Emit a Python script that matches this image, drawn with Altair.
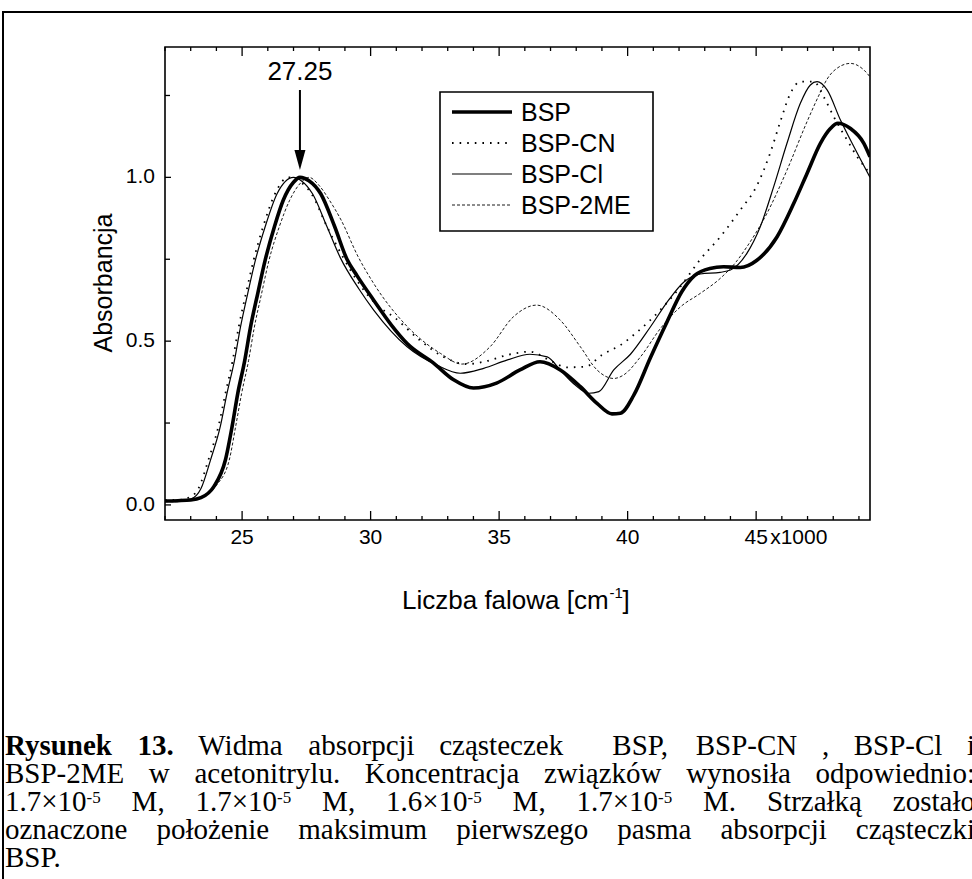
import altair as alt
import pandas as pd

# ---------------- data ----------------
series_names = ["BSP", "BSP-CN", "BSP-Cl", "BSP-2ME"]

bsp_x = [22.0, 22.5, 23.0, 23.4, 23.9, 24.35, 24.61, 24.83, 25.1, 25.32, 25.61, 25.9, 26.26, 26.6, 27.0,
         27.25, 27.6, 28.06, 28.6, 29.08, 29.47, 30.12, 30.8, 31.42, 32.45, 33.23, 34.0, 34.9, 35.81,
         36.59, 37.38, 38.16, 38.81, 39.39, 39.72, 40.24, 40.89, 41.54, 42.1, 42.6, 43.2, 43.73, 44.38,
         45.03, 45.81, 46.46, 46.98, 47.5, 47.89, 48.18, 48.67, 49.19, 49.43]
bsp_y = [0.012, 0.013, 0.015, 0.022, 0.056, 0.137, 0.239, 0.34, 0.44, 0.54, 0.646, 0.748, 0.85, 0.93, 0.985,
         1.0, 0.99, 0.95, 0.85, 0.75, 0.70, 0.625, 0.55, 0.493, 0.433, 0.382, 0.357, 0.372, 0.412,
         0.437, 0.412, 0.361, 0.31, 0.278, 0.28, 0.335, 0.45, 0.56, 0.65, 0.70, 0.722, 0.727, 0.725,
         0.747, 0.818, 0.92, 1.012, 1.104, 1.149, 1.165, 1.149, 1.104, 1.063]

cn_x = [22.0, 22.5, 23.0, 23.3, 23.7, 24.08, 24.35, 24.63, 24.87, 25.15, 25.45, 25.82, 26.28, 26.8, 27.2,
        27.7, 28.3, 28.9, 29.6, 30.25, 30.9, 31.93, 32.84, 33.75, 34.4, 35.44, 36.2, 37.0, 37.64, 38.36,
        39.0, 39.72, 40.4, 41.27, 42.05, 42.83, 43.6, 44.38, 45.03, 45.55, 45.94, 46.33, 46.72, 47.24,
        47.63, 48.02, 48.54, 48.93, 49.32, 49.43]
cn_y = [0.015, 0.015, 0.025, 0.05, 0.14, 0.24, 0.34, 0.44, 0.544, 0.646, 0.748, 0.85, 0.95, 1.0, 0.99,
        0.95, 0.85, 0.76, 0.67, 0.61, 0.574, 0.502, 0.452, 0.43, 0.437, 0.46, 0.468, 0.44, 0.42, 0.422,
        0.458, 0.488, 0.53, 0.595, 0.666, 0.75, 0.818, 0.9, 0.975, 1.075, 1.17, 1.256, 1.292, 1.292,
        1.246, 1.185, 1.114, 1.063, 1.022, 1.01]

cl_x = [22.0, 22.5, 23.0, 23.4, 23.77, 24.15, 24.41, 24.7, 24.94, 25.22, 25.52, 25.9, 26.36, 27.0, 27.3,
        27.74, 28.3, 28.82, 29.54, 30.12, 31.42, 32.58, 33.49, 34.4, 35.3, 36.2, 36.87, 37.4, 37.9,
        38.49, 38.88, 39.46, 40.11, 40.89, 41.6, 42.18, 42.83, 43.6, 44.0, 44.64, 45.16, 45.68, 46.2,
        46.72, 47.11, 47.37, 47.76, 48.28, 48.8, 49.43]
cl_y = [0.012, 0.013, 0.018, 0.05, 0.137, 0.239, 0.34, 0.44, 0.544, 0.646, 0.748, 0.85, 0.95, 1.0, 0.99,
        0.95, 0.85, 0.755, 0.66, 0.595, 0.483, 0.427, 0.402, 0.417, 0.442, 0.46, 0.452, 0.41, 0.37,
        0.341, 0.346, 0.412, 0.46, 0.544, 0.626, 0.68, 0.705, 0.71, 0.717, 0.768, 0.849, 0.971, 1.104,
        1.226, 1.282, 1.292, 1.267, 1.175, 1.094, 1.0]

me_x = [22.0, 22.5, 23.0, 23.5, 24.0, 24.5, 24.75, 24.98, 25.25, 25.47, 25.76, 26.05, 26.45, 26.85, 27.3,
        27.6, 28.0, 28.4, 28.85, 29.5, 30.12, 31.42, 32.71, 33.55, 34.65, 35.55, 36.46, 37.38, 38.16,
        38.81, 39.46, 39.85, 40.5, 41.28, 42.06, 42.83, 43.61, 44.2, 44.64, 45.42, 46.2, 46.98, 47.5,
        47.76, 48.02, 48.67, 49.19, 49.43]
me_y = [0.01, 0.01, 0.015, 0.025, 0.06, 0.137, 0.24, 0.34, 0.44, 0.54, 0.646, 0.748, 0.85, 0.93, 0.985,
        1.0, 0.975, 0.93, 0.87, 0.76, 0.676, 0.545, 0.463, 0.43, 0.483, 0.574, 0.61, 0.564, 0.483,
        0.412, 0.386, 0.397, 0.452, 0.539, 0.605, 0.646, 0.692, 0.74, 0.788, 0.89, 1.022, 1.17, 1.26,
        1.30, 1.325, 1.348, 1.328, 1.307]

x_major = [25, 30, 35, 40, 45]
x_major_labels = ["25", "30", "35", "40", "45"]
x_minor = [22, 23, 24, 26, 27, 28, 29, 31, 32, 33, 34, 36, 37, 38, 39, 41, 42, 43, 44, 46, 47, 48, 49]
y_major = [0.0, 0.5, 1.0]
y_major_labels = ["0.0", "0.5", "1.0"]
y_minor = [0.25, 0.75, 1.25]

peak_x = [27.25]
peak_label = ["27.25"]

# ---------------- layout ----------------
W, H = 705, 473
OX, OY = 165, 47          # plot origin inside the 972x879 canvas
xs = alt.Scale(domain=[22.0, 49.43], nice=False, zero=False)
ys = alt.Scale(domain=[-0.046, 1.398], nice=False, zero=False)
SANS = "Liberation Sans"
SERIF = "Liberation Serif"
one = pd.DataFrame({"k": [0]})

styles = {
    "BSP": dict(strokeWidth=3.6),
    "BSP-CN": dict(strokeWidth=1.8, strokeDash=[1.6, 6.0]),
    "BSP-Cl": dict(strokeWidth=1.2),
    "BSP-2ME": dict(strokeWidth=0.9, strokeDash=[3, 2]),
}
curves = {
    "BSP": (bsp_x, bsp_y),
    "BSP-CN": (cn_x, cn_y),
    "BSP-Cl": (cl_x, cl_y),
    "BSP-2ME": (me_x, me_y),
}

layers = []

# outer figure border (left and top visible)
layers.append(alt.Chart(one).mark_rect(fillOpacity=0, stroke="black", strokeWidth=2).encode(
    x=alt.value(3 - OX), x2=alt.value(1100), y=alt.value(12 - OY), y2=alt.value(1100)))

# curves
for name in ["BSP-2ME", "BSP-CN", "BSP-Cl", "BSP"]:
    xv, yv = curves[name]
    df = pd.DataFrame({"x": xv, "y": yv})
    layers.append(alt.Chart(df).mark_line(color="black", interpolate="monotone", clip=True,
                                          **styles[name]).encode(
        x=alt.X("x:Q", scale=xs, axis=None), y=alt.Y("y:Q", scale=ys, axis=None)))

# ticks (inward)
xmaj = pd.DataFrame({"v": x_major, "label": x_major_labels})
xmin = pd.DataFrame({"v": x_minor})
ymaj = pd.DataFrame({"v": y_major, "label": y_major_labels})
ymin = pd.DataFrame({"v": y_minor})
for d, ln in [(xmaj, 9), (xmin, 4)]:
    layers.append(alt.Chart(d).mark_rule(color="black", strokeWidth=1.3).encode(
        x=alt.X("v:Q", scale=xs, axis=None), y=alt.value(H), y2=alt.value(H - ln)))
    layers.append(alt.Chart(d).mark_rule(color="black", strokeWidth=1.3).encode(
        x=alt.X("v:Q", scale=xs, axis=None), y=alt.value(0), y2=alt.value(ln)))
for d, ln in [(ymaj, 6), (ymin, 5)]:
    layers.append(alt.Chart(d).mark_rule(color="black", strokeWidth=1.3).encode(
        y=alt.Y("v:Q", scale=ys, axis=None), x=alt.value(0), x2=alt.value(ln)))

# tick labels
layers.append(alt.Chart(xmaj).mark_text(font=SANS, fontSize=21, baseline="middle", color="black").encode(
    x=alt.X("v:Q", scale=xs, axis=None), y=alt.value(491), text="label:N"))
layers.append(alt.Chart(pd.DataFrame({"v": [x_major[-1]]})).mark_text(
    font=SANS, fontSize=21, baseline="middle", align="left", dx=14, text="x1000", color="black").encode(
    x=alt.X("v:Q", scale=xs, axis=None), y=alt.value(491)))
layers.append(alt.Chart(ymaj).mark_text(font=SANS, fontSize=21, baseline="middle", align="right",
                                        color="black").encode(
    y=alt.Y("v:Q", scale=ys, axis=None), x=alt.value(-10), text="label:N"))

# axis titles
layers.append(alt.Chart(one).mark_text(font=SANS, fontSize=25, angle=270, align="center",
                                       baseline="alphabetic", text="Absorbancja", color="black").encode(
    x=alt.value(112 - OX), y=alt.value(283 - OY)))
xt_main = "Liczba falowa [cm"
xt_left = 515 - 113 - OX
layers.append(alt.Chart(one).mark_text(font=SANS, fontSize=26, align="left", baseline="alphabetic",
                                       text=xt_main, color="black").encode(
    x=alt.value(xt_left), y=alt.value(609 - OY)))
main_w = 7.947 * 26
layers.append(alt.Chart(one).mark_text(font=SANS, fontSize=15, align="left", baseline="alphabetic",
                                       text="-1", color="black").encode(
    x=alt.value(xt_left + main_w + 1), y=alt.value(609 - OY - 11)))
layers.append(alt.Chart(one).mark_text(font=SANS, fontSize=26, align="left", baseline="alphabetic",
                                       text="]", color="black").encode(
    x=alt.value(xt_left + main_w + 14), y=alt.value(609 - OY)))

# annotation: arrow at the first maximum of BSP
pk = pd.DataFrame({"x": peak_x, "label": peak_label})
layers.append(alt.Chart(pk).mark_text(font=SANS, fontSize=26, baseline="middle", color="black").encode(
    x=alt.X("x:Q", scale=xs, axis=None), y=alt.value(72 - OY), text="label:N"))
layers.append(alt.Chart(pk).mark_rule(color="black", strokeWidth=2).encode(
    x=alt.X("x:Q", scale=xs, axis=None), y=alt.value(90 - OY), y2=alt.value(156 - OY)))
layers.append(alt.Chart(pk).mark_point(shape="M -0.55 -1 L 0.55 -1 L 0 1 Z", size=400, filled=True,
                                       color="black", opacity=1).encode(
    x=alt.X("x:Q", scale=xs, axis=None), y=alt.value(160 - OY)))

# legend box
layers.append(alt.Chart(one).mark_rect(fill="white", stroke="black", strokeWidth=1.6).encode(
    x=alt.value(440 - OX), x2=alt.value(653 - OX), y=alt.value(92 - OY), y2=alt.value(231 - OY)))
leg_rows = [112, 143, 174, 205]
for i, name in enumerate(series_names):
    ry = leg_rows[i] - OY
    layers.append(alt.Chart(one).mark_rule(color="black", **styles[name]).encode(
        x=alt.value(452 - OX), x2=alt.value(512 - OX), y=alt.value(ry)))
    layers.append(alt.Chart(pd.DataFrame({"s": [name]})).mark_text(
        font=SANS, fontSize=25, align="left", baseline="middle", color="black").encode(
        x=alt.value(521 - OX), y=alt.value(ry + 1), text="s:N"))

# ---------------- caption (justified, Times metrics) ----------------
TNR = {' ': 250, ',': 250, '.': 250, ':': 278, '-': 333, '×': 564,
       'A': 722, 'B': 667, 'C': 667, 'E': 611, 'K': 722, 'M': 889, 'N': 722, 'P': 556, 'S': 556,
       'W': 944, 'R': 667, 'a': 444, 'b': 500, 'c': 444, 'd': 500, 'e': 444, 'f': 333, 'g': 500,
       'h': 500, 'i': 278, 'j': 278, 'k': 500, 'l': 278, 'm': 778, 'n': 500, 'o': 500, 'p': 500,
       'r': 333, 's': 389, 't': 278, 'u': 500, 'w': 722, 'y': 500, 'z': 444, 'ą': 444, 'ę': 444,
       'ł': 278, 'ó': 500, 'ż': 444}
TNRB = dict(TNR)
TNRB.update({'R': 722, 'u': 556, 'n': 556, 'k': 556})
CAP_FS = 29
SUP_FS = 17


def tw(s, fs, bold=False):
    t = TNRB if bold else TNR
    return sum(t.get(c, 500) for c in s) * fs / 1000.0


def seg_w(seg):
    txt, bold, sup = seg
    return tw(txt, SUP_FS if sup else CAP_FS, bold)


def W_(txt, bold=False):
    return [(txt, bold, False)]


def sup5(base):
    return [(base, False, False), ("-5", False, True)]


caption_lines = [
    ([W_("Rysunek", True), W_("13.", True), W_("Widma"), W_("absorpcji"), W_("cząsteczek"), W_("BSP,"),
      W_("BSP-CN"), W_(","), W_("BSP-Cl"), W_("i")], [0, 1, 1, 1, 1, 2, 1, 1, 1, 1], True),
    ([W_("BSP-2ME"), W_("w"), W_("acetonitrylu."), W_("Koncentracja"), W_("związków"), W_("wynosiła"),
      W_("odpowiednio:")], [0, 1, 1, 1, 1, 1, 1], True),
    ([sup5("1.7×10"), W_("M,"), sup5("1.7×10"), W_("M,"), sup5("1.6×10"), W_("M,"), sup5("1.7×10"),
      W_("M."), W_("Strzałką"), W_("zostało")], [0, 1, 1, 1, 1, 1, 1, 1, 1, 1], True),
    ([W_("oznaczone"), W_("położenie"), W_("maksimum"), W_("pierwszego"), W_("pasma"), W_("absorpcji"),
      W_("cząsteczki")], [0, 1, 1, 1, 1, 1, 1], True),
    ([W_("BSP.")], [0], False),
]
CAP_L, CAP_R = 5, 975
cap_base = [755, 783, 811, 839, 867]

for (words, spaces, justify), base in zip(caption_lines, cap_base):
    widths = [sum(seg_w(s) for s in w) for w in words]
    n_sp = sum(spaces)
    sp = (CAP_R - CAP_L - sum(widths)) / n_sp if (justify and n_sp) else tw(" ", CAP_FS)
    x = CAP_L
    for w, nsp, wd in zip(words, spaces, widths):
        x += nsp * sp
        xx = x
        for txt, bold, sup in w:
            fs = SUP_FS if sup else CAP_FS
            yy = base - (8 if sup else 0)
            layers.append(alt.Chart(one).mark_text(
                font=SERIF, fontSize=fs, fontWeight="bold" if bold else "normal", align="left",
                baseline="alphabetic", text=txt, color="black").encode(
                x=alt.value(xx - OX), y=alt.value(yy - OY)))
            xx += seg_w((txt, bold, sup))
        x += wd

chart = alt.layer(*layers).properties(
    width=W, height=H,
    autosize=alt.AutoSizeParams(type="none"),
    padding={"left": OX, "top": OY, "right": 972 - OX - W, "bottom": 879 - OY - H},
    background="white",
).configure_view(stroke="black", strokeWidth=1.6)

chart.save("out.html", embed_options={"renderer": "svg", "actions": False})
